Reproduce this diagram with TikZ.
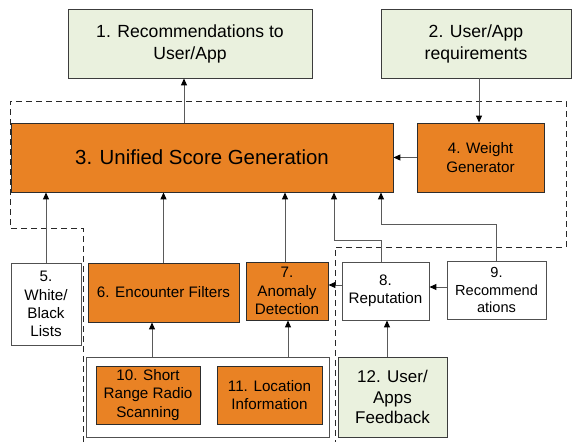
\documentclass[tikz,border=0pt]{standalone}
\usepackage{fontspec}
\setmainfont{Liberation Sans}
\usetikzlibrary{arrows.meta,calc}
\definecolor{orng}{RGB}{233,130,36}
\definecolor{grn}{RGB}{234,241,222}
\definecolor{lineg}{RGB}{90,90,90}
\definecolor{bord}{RGB}{45,45,45}
\definecolor{gbord}{RGB}{60,60,60}
\definecolor{wbord}{RGB}{80,80,80}
\definecolor{dashc}{RGB}{40,40,40}
\newcommand\fsS{\fontsize{15.2}{18.3}\selectfont}
\newcommand\fsR{\fontsize{14.6}{17.5}\selectfont}
\newcommand\fsL{\fontsize{17.6}{22}\selectfont}
\newcommand\fsF{\fontsize{17}{20.5}\selectfont}
\newcommand\fsX{\fontsize{20.4}{24}\selectfont}
\begin{document}
\begin{tikzpicture}[x=1pt,y=-1pt,
  box/.style={draw=bord, line width=0.9pt, inner sep=0pt, align=center, anchor=center},
  obox/.style={box, fill=orng},
  gbox/.style={box, fill=grn, draw=gbord},
  wbox/.style={box, fill=white, draw=wbord},
  arr/.style={draw=lineg, line width=1pt, -{Triangle[length=7pt,width=6pt,color=black]}},
  dashline/.style={draw=dashc, line width=0.9pt, dash pattern=on 6pt off 4pt}]
\useasboundingbox (0,0) rectangle (573,442);
% dashed boundary
\draw[dashline] (83,442) -- (83,228) -- (10,228) -- (10,101) -- (566,101) -- (566,247) -- (335,247) -- (335,442);
% nodes
\node[gbox, minimum width=244pt, minimum height=69pt, font=\fsL] (b1) at (190,43.5) {1. Recommendations to\\User/App};
\node[gbox, minimum width=190pt, minimum height=69pt, font=\fsL] (b2) at (476,43.5) {2. User/App\\requirements};
\node[obox, minimum width=382pt, minimum height=69pt, font=\fsX] (b3) at (202,157.5) {3. Unified Score Generation};
\node[obox, minimum width=127pt, minimum height=69pt, font=\fsS] (b4) at (480.5,157.5) {4. Weight\\Generator};
\node[wbox, minimum width=70pt, minimum height=82pt, font=\fsS] (b5) at (46,304) {5.\\White/\\Black\\Lists};
\node[obox, minimum width=151pt, minimum height=59pt, font=\fsS] (b6) at (163.5,292.5) {6. Encounter Filters};
\node[obox, minimum width=82pt, minimum height=58pt, font=\fsS] (b7) at (287,291) {7.\\Anomaly\\Detection};
\node[wbox, minimum width=87pt, minimum height=58pt, font=\fsS] (b8) at (385.5,291) {8.\\Reputation};
\node[wbox, minimum width=99pt, minimum height=58pt, font=\fsR] (b9) at (496.5,290) {9.\\Recommend\\ations};
\node[wbox, minimum width=243pt, minimum height=80pt] (c) at (207.5,397) {};
\node[obox, minimum width=104pt, minimum height=58pt, font=\fsS] (b10) at (148,395) {10. Short\\Range Radio\\Scanning};
\node[obox, minimum width=105pt, minimum height=58pt, font=\fsS] (b11) at (269.5,395) {11. Location\\Information};
\node[gbox, minimum width=109pt, minimum height=80pt, font=\fsF] (b12) at (392.5,397) {12. User/\\Apps\\Feedback};
% helper coordinates
\coordinate (k8) at (334,240);
\coordinate (k9) at (381,224);
% connectors
\draw[arr] ([xshift=-18pt]b3.north) -- ([xshift=-6pt]b1.south);
\draw[arr] ([xshift=3pt]b2.south) -- ([xshift=-1.5pt]b4.north);
\draw[arr] (b4.west) -- (b3.east);
\draw[arr] (b5.north) -- (b5.north |- b3.south);
\draw[arr] (b6.north) -- (b6.north |- b3.south);
\draw[arr] ([xshift=-2pt]b7.north) -- ([xshift=-2pt]b7.north |- b3.south);
\draw[arr] ([xshift=-4.5pt]b8.north) |- (k8) -- (k8 |- b3.south);
\draw[arr] (b9.north) |- (k9) -- (k9 |- b3.south);
\draw[arr] ([yshift=6pt]b8.west) -- ([yshift=6pt]b8.west -| b7.east);
\draw[arr] ([yshift=3pt]b9.west) -- ([yshift=3pt]b9.west -| b8.east);
\draw[arr] ([xshift=-5.5pt]b12.north) -- ([xshift=-5.5pt]b12.north |- b8.south);
\draw[arr] ([xshift=-55.5pt]c.north) -- ([xshift=-55.5pt]c.north |- b6.south);
\draw[arr] ([xshift=80.5pt]c.north) -- ([xshift=80.5pt]c.north |- b7.south);
\end{tikzpicture}
\end{document}
